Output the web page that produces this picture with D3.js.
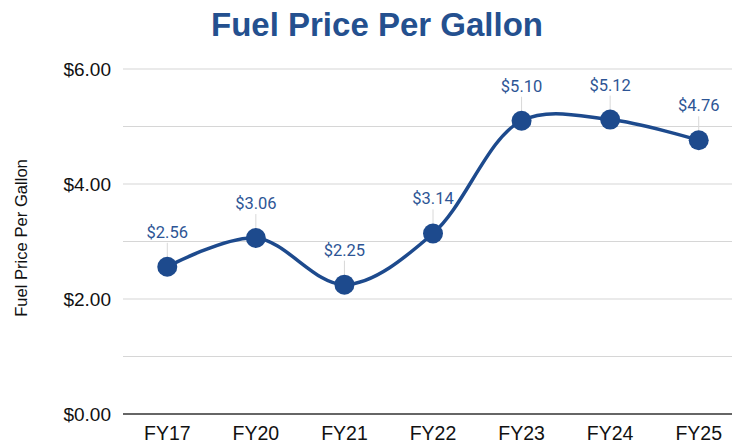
<!DOCTYPE html>
<html><head><meta charset="utf-8">
<script src="https://cdn.jsdelivr.net/npm/d3@7"></script>
<style>body{margin:0;background:#fff;} svg{display:block;}</style>
</head><body>
<svg id="chart" width="732" height="443"></svg>
<script>
const categories = ["FY17","FY20","FY21","FY22","FY23","FY24","FY25"];
const prices = [2.56, 3.06, 2.25, 3.14, 5.10, 5.12, 4.76];
const yTicks = [0, 2, 4, 6];
const yGrid = [0, 1, 2, 3, 4, 5, 6];

(function(){
const svg = d3.select("#chart");
const mLeft = 123, mRight = 743, mTop = 69, mBottom = 414;
const x = d3.scaleBand().domain(categories).range([mLeft, mRight]).paddingInner(0).paddingOuter(0);
const cx = d => x(d) + x.bandwidth() / 2;
const y = d3.scaleLinear().domain([0, 6]).range([mBottom, mTop]);
const blue = "#1d4a8d";

svg.append("text").attr("x", 377).attr("y", 35.5).attr("text-anchor", "middle")
  .attr("font-family", "Liberation Sans, Arial, sans-serif").attr("font-weight", "bold")
  .attr("font-size", 33).attr("fill", "#24508f").text("Fuel Price Per Gallon");

svg.append("g").selectAll("line").data(yGrid.filter(d => d !== 0)).join("line")
  .attr("x1", mLeft).attr("x2", 732).attr("y1", d => y(d)).attr("y2", d => y(d))
  .attr("stroke", "#d6d6d6").attr("stroke-width", 1.2);

const yAxis = svg.append("g").attr("transform", `translate(${mLeft},0)`)
  .call(d3.axisLeft(y).tickValues(yTicks).tickFormat(d => "$" + d3.format(".2f")(d)).tickSize(0).tickPadding(12));
yAxis.select(".domain").remove();
yAxis.selectAll("text").attr("font-family", "Liberation Sans, Arial, sans-serif").attr("font-size", 19).attr("fill", "#111");

svg.append("line").attr("x1", mLeft).attr("x2", 732).attr("y1", y(0)).attr("y2", y(0))
  .attr("stroke", "#333").attr("stroke-width", 1.5);

const xAxis = svg.append("g").attr("transform", `translate(0,${mBottom})`)
  .call(d3.axisBottom(x).tickSize(0).tickPadding(12));
xAxis.select(".domain").remove();
xAxis.selectAll("text").attr("font-family", "Liberation Sans, Arial, sans-serif").attr("font-size", 19.5).attr("fill", "#111");

svg.append("text").attr("transform", `translate(27,238) rotate(-90)`).attr("text-anchor", "middle")
  .attr("font-family", "Liberation Sans, Arial, sans-serif").attr("font-size", 16.6).attr("fill", "#111")
  .text("Fuel Price Per Gallon");

const data = categories.map((c, i) => ({c, v: prices[i]}));

svg.append("g").selectAll("line").data(data).join("line")
  .attr("x1", d => cx(d.c)).attr("x2", d => cx(d.c))
  .attr("y1", d => y(d.v) - 24).attr("y2", d => y(d.v))
  .attr("stroke", "#d8d8d8").attr("stroke-width", 1);

const line = d3.line().x(d => cx(d.c)).y(d => y(d.v)).curve(d3.curveCatmullRom.alpha(0.5));
svg.append("path").datum(data).attr("d", line).attr("fill", "none")
  .attr("stroke", blue).attr("stroke-width", 3.5);

svg.append("g").selectAll("circle").data(data).join("circle")
  .attr("cx", d => cx(d.c)).attr("cy", d => y(d.v)).attr("r", 10).attr("fill", blue);

svg.append("g").selectAll("text").data(data).join("text")
  .attr("x", d => cx(d.c)).attr("y", d => y(d.v) - 29).attr("text-anchor", "middle")
  .attr("font-family", "Roboto, sans-serif").attr("font-size", 16.5).attr("fill", "#2d5595")
  .text(d => "$" + d3.format(".2f")(d.v));
})();
</script>
</body></html>
